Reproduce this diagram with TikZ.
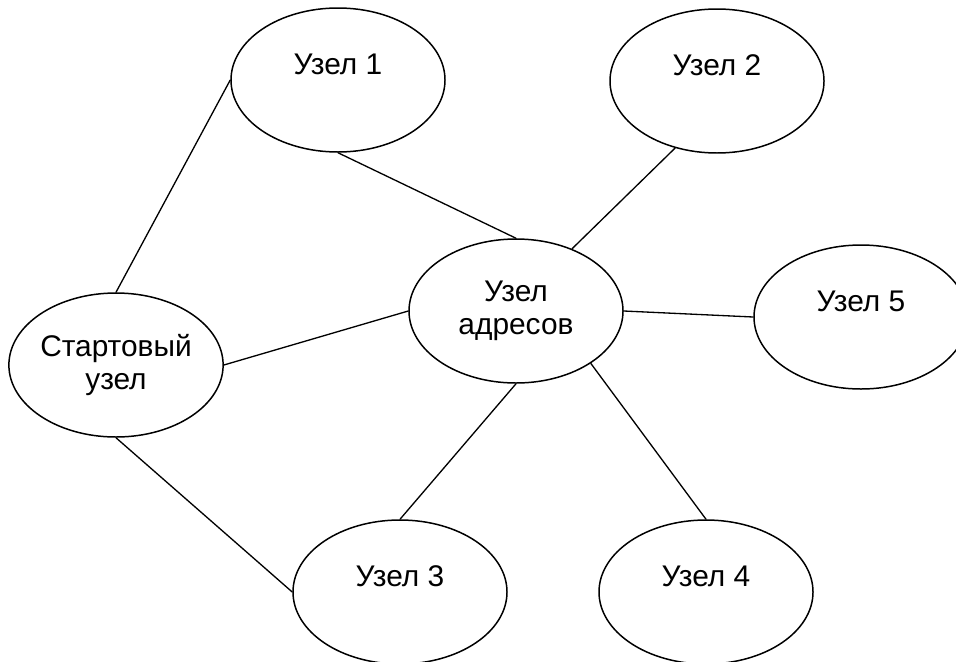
\documentclass[tikz,border=0pt]{standalone}
\usepackage{fontspec}
\setmainfont{Liberation Sans}
\usetikzlibrary{shapes.geometric}

\begin{document}
\begin{tikzpicture}[line join=round,line cap=round,
    knot/.style={ellipse,draw,line width=0.85pt,inner sep=0pt,
                 minimum width=4.28cm,minimum height=2.88cm,align=center,
                 font=\fontsize{17}{18.5}\selectfont},
    oneline/.style={text height=12.3pt,text depth=18.2pt},
    link/.style={line width=0.75pt}]

  \useasboundingbox (0,0) rectangle (19.12,-13.22);

  % ---- address node in the middle -----------------------------------------
  \node[knot] (addr) at (10.32,-6.22) {Узел\\адресов};

  % ---- start node on the left ---------------------------------------------
  \node[knot] (start) at (2.32,-7.30) {Стартовый\\узел};

  % ---- the five plain nodes -----------------------------------------------
  \node[knot,oneline] (u1) at (6.76,-1.60)  {Узел 1};
  \node[knot,oneline] (u2) at (14.34,-1.62) {Узел 2};
  \node[knot,oneline] (u3) at (8.00,-11.84) {Узел 3};
  \node[knot,oneline] (u4) at (14.12,-11.84) {Узел 4};
  \node[knot,oneline] (u5) at (17.22,-6.34) {Узел 5};

  % ---- connectors ---------------------------------------------------------
  \draw[link] (u1.west)   -- (start.north);
  \draw[link] (start.east) -- (addr.west);
  \draw[link] (start.south) -- (u3.west);
  \draw[link] (u1.south)  -- (addr.north);
  \draw[link] (u2.-122)   -- (addr.48);
  \draw[link] (addr.east) -- (u5.west);
  \draw[link] (addr.south) -- (u3.north);
  \draw[link] (addr.-35)  -- (u4.north);

\end{tikzpicture}
\end{document}
